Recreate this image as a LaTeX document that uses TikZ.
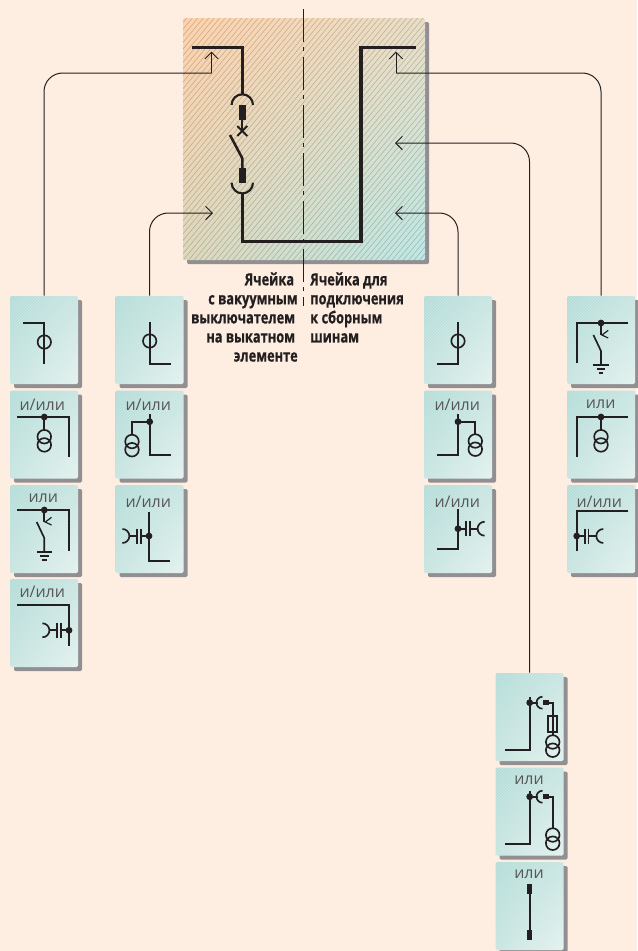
\documentclass[tikz,border=0pt]{standalone}
\usepackage{fontspec}
\usepackage{amsmath}
\usetikzlibrary{arrows.meta,shadows,shadings}

\setmainfont{Open Sans}
\newfontfamily\capfont[FakeStretch=0.77,BoldFeatures={FakeBold=0.5}]{Open Sans}

\definecolor{pagebg}{HTML}{FEEEE1}
\definecolor{inkblack}{HTML}{231F20}
\definecolor{shadowgray}{HTML}{918F91}
\definecolor{labelgray}{HTML}{565656}

\tikzset{
    cell/.style={minimum width=51pt, minimum height=66pt, inner sep=0pt, rounded corners=1pt,
        general shadow={fill=shadowgray, opacity=1, shadow xshift=3pt, shadow yshift=-3pt},
        upper left=cellA, upper right=cellB, lower left=cellB, lower right=cellC,
        path picture={
            \begin{scope}[shift={(path picture bounding box.center)}]
                \foreach \k in {-93,-90,...,93}
                    \draw[white, opacity=0.28, line width=0.4pt] (\k-50,50) -- (\k+50,-50);
            \end{scope}
        }},
    panel/.style={minimum width=181.5pt, minimum height=181.5pt, inner sep=0pt, rounded corners=1pt,
        general shadow={fill=shadowgray, opacity=1, shadow xshift=3pt, shadow yshift=-3pt},
        upper left=panelA, upper right=panelB, lower left=panelC, lower right=panelD,
        path picture={
            \begin{scope}[shift={(path picture bounding box.center)}]
                \foreach \k in {-240,-234.5,...,240}
                    \draw[inkblack, opacity=0.24, line width=0.4pt] (\k-105,126) -- (\k+105,-126);
            \end{scope}
        }},
    wire/.style={inkblack, line width=0.75pt},
    feed/.style={wire, -{Straight Barb[length=5pt,width=10pt]}},
    bus/.style={inkblack, line width=2.4pt, line join=miter},
    sym/.style={inkblack, line width=1.25pt},
    tag/.style={inner sep=0pt, text=labelgray, font=\fontsize{12}{12}\selectfont},
    caption/.style={inner sep=0pt, text=inkblack, font=\capfont\bfseries\fontsize{12.5}{14.3}\selectfont}
}
\definecolor{cellA}{HTML}{B2DCD8}
\definecolor{cellB}{HTML}{C6E4E0}
\definecolor{cellC}{HTML}{E2F1EE}
\definecolor{panelA}{HTML}{FFD2AC}
\definecolor{panelB}{HTML}{E9DEC6}
\definecolor{panelC}{HTML}{DDD8BC}
\definecolor{panelD}{HTML}{BDE8E5}

% two overlapping rings
\newcommand{\vtpair}[2]{\draw[sym] (#1,#2) circle[radius=6.8] (#1,#2+8.2) circle[radius=6.8];}
% junction
\newcommand{\jdot}[2]{\fill[inkblack] (#1,#2) circle[radius=3.4];}
% capacitor and half ring, #3 = 1 to the right, -1 to the left
\newcommand{\capsym}[3]{
    \draw[sym] (#1,#2) -- (#1+8*#3,#2);
    \draw[sym] (#1+8*#3,#2-7.5) -- (#1+8*#3,#2+7.5);
    \draw[sym] (#1+11.8*#3,#2-7.5) -- (#1+11.8*#3,#2+7.5);
    \draw[sym] (#1+11.8*#3,#2) -- (#1+19.7*#3,#2);
    \draw[sym] (#1+26.6*#3,#2-7) arc[start angle=-90, delta angle=-180*#3, radius=7];
}
% earthing switch hanging from a junction
\newcommand{\earthsym}[2]{
    \draw[sym] (#1,#2) -- (#1,#2+12);
    \draw[sym, line width=0.9pt] (#1+7.2,#2+7.4) -- (#1+1,#2+12) -- (#1+7.2,#2+15);
    \draw[sym] (#1-7.6,#2+12) -- (#1,#2+28) -- (#1,#2+42);
    \draw[sym] (#1-7.8,#2+42) -- (#1+7.8,#2+42);
    \draw[sym] (#1-4.3,#2+46) -- (#1+4.3,#2+46);
    \draw[sym] (#1-2.3,#2+50) -- (#1+2.3,#2+50);
}
% withdrawable contact with small block
\newcommand{\plugsym}[2]{
    \draw[sym] (#1,#2) -- (#1+8,#2);
    \draw[sym] (#1+12.8,#2-6) arc[start angle=-90, delta angle=-180, radius=6];
    \fill[inkblack] (#1+13.4,#2-2.6) rectangle (#1+19.6,#2+2.4);
    \draw[sym] (#1+19,#2) -- (#1+23,#2) -- (#1+23,#2+12.5);
}

\begin{document}
\begin{tikzpicture}[x=0.75pt, y=-0.75pt]
        \useasboundingbox (0, 0) rectangle (637, 951);
        \fill[pagebg] (0, 0) rectangle (637, 951);

        \node[panel] (bay) at (304, 139) {};

        \foreach \name/\x/\y in {a1/44/340, a2/44/434.5, a3/44/529, a4/44/623,
                b1/149.5/340, b2/149.5/434.5, b3/149.5/529,
                c1/458/340, c2/458/434.5, c3/458/529,
                d1/601/340, d2/601/434.5, d3/601/529,
                e1/529.5/717, e2/529.5/811.5, e3/529.5/906}
            \node[cell] (\name) at (\x, \y) {};

        % arrow ends on the panel
        \coordinate (tipTL) at (211.5, 51.5);
        \coordinate (bendTL) at (211.5, 73);
        \coordinate (tipTR) at (396, 51.5);
        \coordinate (bendTR) at (396, 73);
        \coordinate (tipML) at (213, 213);
        \coordinate (tipMR) at (395, 213);
        \coordinate (tipHR) at (395, 143);

        % axis
        \draw[inkblack, line width=0.8pt, dash pattern=on 24.75pt off 3.4pt on 3.4pt off 4.5pt] (303.5, 9) -- (303.5, 306);

        % connectors
        \draw[wire, rounded corners=14pt] (a1.north) |- (bendTL);
        \draw[feed] (bendTL) -- (tipTL);
        \draw[wire, rounded corners=14pt] (d1.north) |- (bendTR);
        \draw[feed] (bendTR) -- (tipTR);
        \draw[feed, rounded corners=14pt] (b1.north) |- (tipML);
        \draw[feed, rounded corners=14pt] (c1.north) |- (tipMR);
        \draw[feed, rounded corners=14pt] (e1.north) |- (tipHR);

        % the two panels of the bay
        \draw[bus] (191.7, 47.3) -- (242.3, 47.3) -- (242.3, 95);
        \draw[sym, line width=1.6pt] (231.6, 105) arc[start angle=180, delta angle=180, radius=10.7];
        \fill[inkblack] (239, 105.3) rectangle (246, 120);
        \draw[sym, line width=1.5pt] (242.3, 120) -- (242.3, 131);
        \draw[sym, line width=1.5pt] (237.3, 126) -- (247.3, 136);
        \draw[sym, line width=1.5pt] (247.3, 126) -- (237.3, 136);
        \draw[sym, line width=1.9pt] (230, 135) -- (242.3, 158.3) -- (242.3, 168.3);
        \fill[inkblack] (239, 168.3) rectangle (246, 183.3);
        \draw[sym, line width=1.6pt] (231.6, 182.7) arc[start angle=180, delta angle=-180, radius=10.7];
        \draw[bus] (242.3, 193.3) -- (242.3, 241.7) -- (361, 241.7) -- (361, 47.3) -- (416, 47.3);

        % column a
        \draw[sym] (23.3, 322.7) -- (44.3, 322.7) -- (44.3, 364.3);
        \draw[sym] (44.3, 342) circle[radius=6.7];

        \node[tag] (tagA2) at (42.3, 405) {и/или};
        \draw[sym] (17.3, 417) -- (69, 417) -- (69, 457.3);
        \draw[sym] (44.3, 417) -- (44.3, 430);
        \jdot{44.3}{417}
        \vtpair{44.3}{436.7}

        \node[tag] (tagA3) at (43.3, 498) {или};
        \draw[sym] (17.3, 510) -- (69.3, 510) -- (69.3, 550.7);
        \jdot{44.3}{510}
        \earthsym{44.3}{510}

        \node[tag] (tagA4) at (42.3, 592) {и/или};
        \draw[sym] (17.3, 605) -- (69, 605) -- (69, 645.7);
        \jdot{69}{630.3}
        \capsym{69}{630.3}{-1}

        % column b
        \draw[sym] (149.7, 321.7) -- (149.7, 364.3) -- (170.7, 364.3);
        \draw[sym] (149.7, 341) circle[radius=6.7];

        \node[tag] (tagB2) at (148.3, 405) {и/или};
        \draw[sym] (149.7, 414.3) -- (149.7, 455) -- (170.7, 455);
        \draw[sym] (149.7, 421.7) -- (132, 421.7) -- (132, 435);
        \jdot{149.7}{421.7}
        \vtpair{132}{441.5}

        \node[tag] (tagB3) at (148.3, 502) {и/или};
        \draw[sym] (149, 511.7) -- (149, 560.7) -- (170, 560.7);
        \jdot{149}{536}
        \capsym{149}{536}{-1}

        % column c
        \draw[sym] (437, 364.3) -- (458, 364.3) -- (458, 321.7);
        \draw[sym] (458, 341) circle[radius=6.7];

        \node[tag] (tagC2) at (457.3, 405) {и/или};
        \draw[sym] (437, 455) -- (458, 455) -- (458, 414.3);
        \draw[sym] (458, 421.7) -- (475.3, 421.7) -- (475.3, 435);
        \jdot{458}{421.7}
        \vtpair{475.3}{441}

        \node[tag] (tagC3) at (457.3, 501.7) {и/или};
        \draw[sym] (437, 549.3) -- (458, 549.3) -- (458, 509.3);
        \jdot{458}{528.7}
        \capsym{458}{528.7}{1}

        % column d
        \draw[sym] (576.7, 363.3) -- (576.7, 323) -- (627.7, 323);
        \jdot{601}{323}
        \earthsym{601}{323}

        \node[tag] (tagD2) at (600.7, 404.3) {или};
        \draw[sym] (576.7, 457) -- (576.7, 417) -- (627.7, 417);
        \draw[sym] (601, 417) -- (601, 430);
        \jdot{601}{417}
        \vtpair{601}{436.7}

        \node[tag] (tagD3) at (599.3, 501.7) {и/или};
        \draw[sym] (628.3, 511) -- (576.7, 511) -- (576.7, 551);
        \jdot{576.7}{536}
        \capsym{576.7}{536}{1}

        % column e
        \draw[sym] (505.3, 750) -- (529.7, 750) -- (529.7, 696.7);
        \jdot{529.7}{702.7}
        \plugsym{529.7}{702.7}
        \draw[sym] (548, 715.7) rectangle (557.3, 731.7);
        \draw[sym] (552.7, 715.7) -- (552.7, 735.5);
        \vtpair{552.7}{742}

        \node[tag] (tagE2) at (529, 780) {или};
        \draw[sym] (505.3, 844) -- (529.7, 844) -- (529.7, 790.7);
        \jdot{529.7}{796.7}
        \plugsym{529.7}{796.7}
        \draw[sym] (552.7, 809) -- (552.7, 829);
        \vtpair{552.7}{835}

        \node[tag] (tagE3) at (529, 874.3) {или};
        \fill[inkblack] (527, 884) rectangle (532.3, 894);
        \draw[sym] (529.7, 894) -- (529.7, 930);
        \fill[inkblack] (527, 930) rectangle (532.3, 940.3);

        % captions
        \node[caption, anchor=north east, align=right] (capL) at (298, 272) {Ячейка\kern2.7pt\\с вакуумным\\выключателем\kern2pt\\на выкатном\kern2pt\\элементе};
        \node[caption, anchor=north west, align=left] (capR) at (310, 272) {Ячейка для\\подключения\\к сборным\\шинам};

    \end{tikzpicture}
\end{document}
